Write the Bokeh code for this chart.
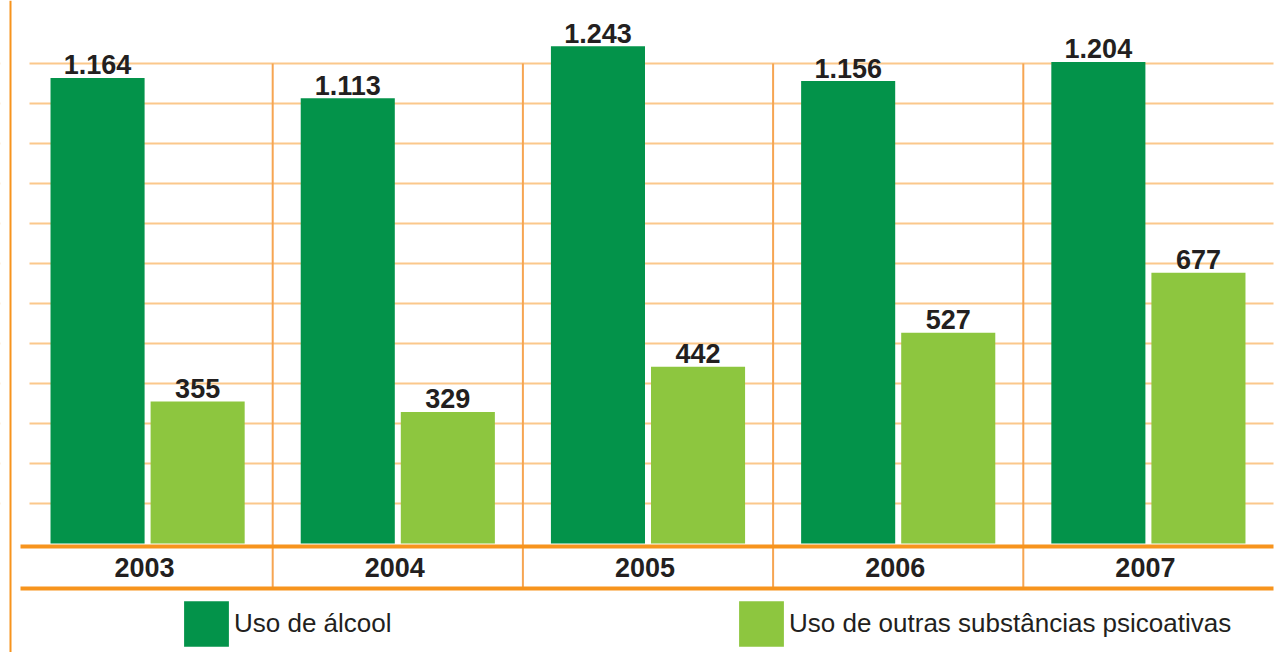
from bokeh.plotting import figure
from bokeh.models import (ColumnDataSource, Range1d, FixedTicker, Span, BoxAnnotation,
                          Legend, LegendItem, Grid)
from bokeh.transform import dodge
from bokeh.core.properties import value
from bokeh.embed import file_html
from bokeh.resources import INLINE

# ---------------- data ----------------
years = [2003, 2004, 2005, 2006, 2007]
year_labels = ["2003", "2004", "2005", "2006", "2007"]
alcool = [1164, 1113, 1243, 1156, 1204]
outras = [355, 329, 442, 527, 677]
series_names = ["Uso de álcool", "Uso de outras substâncias psicoativas"]


def br(v):
    return f"{v:,}".replace(",", ".")


src = ColumnDataSource(dict(
    year=years,
    year_lbl=year_labels,
    alcool=alcool,
    outras=outras,
    alcool_lbl=[br(v) for v in alcool],
    outras_lbl=[br(v) for v in outras],
))
sep_src = ColumnDataSource(dict(x=[y + 0.5 for y in years[:-1]]))

# ---------------- layout constants ----------------
W, H = 1280, 652
PX = 250.2                 # pixels per category
X0 = years[0] - 0.5 - 22 / PX
X1 = X0 + W / PX
PY = 0.4                   # pixels per unit
BASE = 543                 # canvas y of value 0
Y1 = BASE / PY
Y0 = -(H - BASE) / PY

DARK = "#03934A"
LIGHT = "#8DC63F"
ORANGE = "#F7941D"
GRID = "#FBC88B"
SEP = "#F6A552"
TEXT = "#231F20"
FONT = "Liberation Sans"

p = figure(width=W, height=H, x_range=Range1d(X0, X1), y_range=Range1d(Y0, Y1),
           x_axis_location=None, y_axis_location=None, toolbar_location=None,
           output_backend="svg", min_border=0, outline_line_color=None,
           background_fill_color="white", border_fill_color="white")
for g in p.grid:
    g.visible = False

p.add_layout(Grid(dimension=1, ticker=FixedTicker(ticks=list(range(100, 1201, 100))),
                  grid_line_color=GRID, grid_line_width=2), "center")

# vertical separators between years
p.segment(x0="x", x1="x", y0=1200, y1=-112.5, source=sep_src,
          line_color=SEP, line_width=2)

# bars
r1 = p.vbar(x=dodge("year", -0.2, range=p.x_range), top="alcool", width=0.376,
            source=src, fill_color=DARK, line_color=None)
r2 = p.vbar(x=dodge("year", 0.2, range=p.x_range), top="outras", width=0.376,
            source=src, fill_color=LIGHT, line_color=None)

# thick orange lines
p.segment(x0=X0 + 20 / PX, x1=X0 + 1273 / PX, y0=-7.5, y1=-7.5, line_color=ORANGE, line_width=4)
p.segment(x0=X0 + 20 / PX, x1=X0 + 1273 / PX, y0=-112.5, y1=-112.5, line_color=ORANGE, line_width=4)

# value labels
p.text(x=dodge("year", -0.2, range=p.x_range), y="alcool", text="alcool_lbl", source=src,
       text_align="center", text_baseline="middle", y_offset=-13,
       text_font=value(FONT), text_font_style="bold", text_font_size="27px",
       text_color=TEXT)
p.text(x=dodge("year", 0.2, range=p.x_range), y="outras", text="outras_lbl", source=src,
       text_align="center", text_baseline="middle", y_offset=-13,
       text_font=value(FONT), text_font_style="bold", text_font_size="27px",
       text_color=TEXT)

# year labels
p.text(x="year", y=-60, text="year_lbl", source=src,
       text_align="center", text_baseline="middle", x_offset=-3,
       text_font=value(FONT), text_font_style="bold", text_font_size="27px",
       text_color=TEXT)

# white masks for the grid ends
p.add_layout(BoxAnnotation(left=X0, right=X0 + 29 / PX, bottom=50, top=Y1,
                           fill_color="white", fill_alpha=1, line_color=None))
p.add_layout(BoxAnnotation(left=X0 + 1273 / PX, right=X1, bottom=50, top=Y1,
                           fill_color="white", fill_alpha=1, line_color=None))
# left orange border
p.add_layout(Span(location=X0 + 10 / PX, dimension="height",
                  line_color=ORANGE, line_width=2))

legend = Legend(items=[LegendItem(label=series_names[0], renderers=[r1]),
                       LegendItem(label=series_names[1], renderers=[r2])],
                location=(178, 0), orientation="horizontal",
                glyph_width=56, glyph_height=57, label_width=499, spacing=0,
                padding=0, margin=0, label_standoff=0,
                border_line_color=None, background_fill_alpha=0,
                label_text_font=FONT, label_text_font_size="26px",
                label_text_color=TEXT)
p.add_layout(legend)

open("out.html", "w").write(file_html(p, INLINE))
